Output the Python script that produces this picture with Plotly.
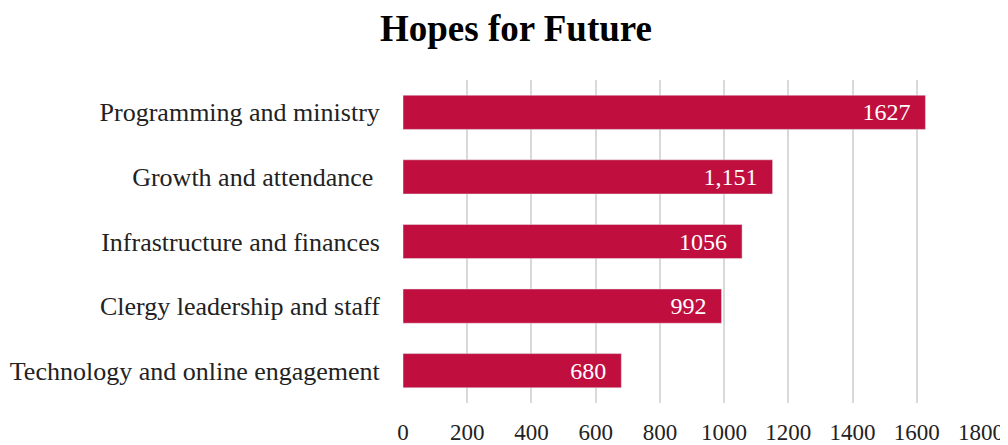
import plotly.graph_objects as go

# data
categories = ["Programming and ministry", "Growth and attendance\u00a0", "Infrastructure and finances",
              "Clergy leadership and staff", "Technology and online engagement"]
values = [1627, 1151, 1056, 992, 680]
labels = ["1627", "1,151", "1056", "992", "680"]

bar_color = "#C00F3F"
font_name = "Liberation Serif"

fig = go.Figure(go.Bar(
    x=values,
    y=categories,
    orientation="h",
    marker=dict(color=bar_color),
    text=[t + "\u00a0\u00a0" for t in labels],
    textposition="inside",
    insidetextanchor="end",
    textfont=dict(family=font_name, size=24, color="white"),
    cliponaxis=False,
))

# page body adds 8px offset, so the figure is 1000x437
fig.update_layout(
    width=1000, height=437,
    paper_bgcolor="white", plot_bgcolor="white",
    margin=dict(l=395, r=27, t=72, b=42),
    bargap=0.47,
    showlegend=False,
    title=dict(text="<b>Hopes for Future</b>", x=0.508, xanchor="center",
               yref="container", y=0.955, yanchor="middle",
               font=dict(family=font_name, size=37, color="black")),
    font=dict(family=font_name, size=24, color="#222"),
)
fig.update_xaxes(range=[0, 1800], dtick=200, showgrid=True, gridcolor="#D9D9D9", gridwidth=2,
                 zeroline=False, showline=False, ticks="outside", ticklen=8, tickcolor="rgba(0,0,0,0)",
                 automargin=False, tickfont=dict(family=font_name, size=23, color="#222"))
fig.update_yaxes(autorange="reversed", showgrid=False, ticks="outside", ticklen=17,
                 tickcolor="rgba(0,0,0,0)", automargin=False,
                 tickfont=dict(family=font_name, size=26, color="#222"))

fig.write_html("out.html")
